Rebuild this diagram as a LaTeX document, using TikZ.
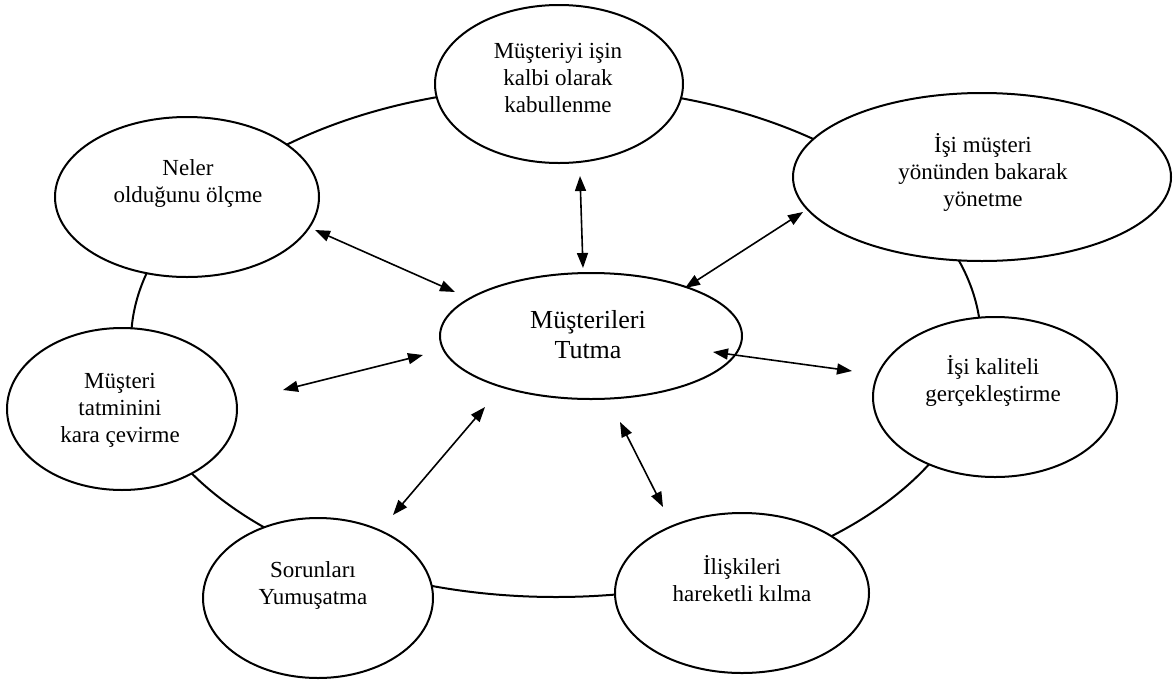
\documentclass[tikz,border=0pt]{standalone}
\usepackage{fontspec}
\setmainfont{Liberation Serif}
\usetikzlibrary{shapes.geometric,arrows.meta}
\tikzset{
  ell/.style={draw=black, line width=2pt, ellipse, fill=white, inner sep=0pt},
  txt/.style={align=center, inner sep=0pt, font={\fontsize{23}{27}\selectfont}},
  bigtxt/.style={align=center, inner sep=0pt, font={\fontsize{26}{30}\selectfont}},
  ring/.style={draw=black, line width=2pt},
  arr/.style={line width=1.6pt, {Triangle[length=15pt,width=11pt]}-{Triangle[length=15pt,width=11pt]}}
}
\begin{document}
\begin{tikzpicture}[x=1pt,y=-1pt]
\useasboundingbox (0,0) rectangle (1175,683);
\fill[white] (0,0) rectangle (1175,683);
% outer ring
\draw[ring] (556,342) ellipse [x radius=425pt, y radius=255pt];
% ellipses
\node[ell, minimum width=248pt, minimum height=158pt] (e1) at (559,84) {};
\node[ell, minimum width=378pt, minimum height=168pt] (e2) at (982,177) {};
\node[ell, minimum width=244pt, minimum height=160pt] (e3) at (995,397) {};
\node[ell, minimum width=254pt, minimum height=160pt] (e4) at (742,593) {};
\node[ell, minimum width=230pt, minimum height=160pt] (e5) at (318,598) {};
\node[ell, minimum width=230pt, minimum height=162pt] (e6) at (122,409) {};
\node[ell, minimum width=264pt, minimum height=160pt] (e7) at (187,197) {};
\node[ell, minimum width=302pt, minimum height=126pt] (c) at (591,336) {};
% texts
\node[txt] (t1) at (558,78) {Müşteriyi işin\\kalbi olarak\\kabullenme};
\node[txt] (t2) at (983,172) {İşi müşteri\\yönünden bakarak\\yönetme};
\node[txt] (t3) at (993,381) {İşi kaliteli\\gerçekleştirme};
\node[txt] (t4) at (742,579) {İlişkileri\\hareketli kılma};
\node[txt] (t5) at (313,585) {Sorunları\\Yumuşatma};
\node[txt] (t6) at (120,410) {Müşteri\\tatminini\\kara çevirme};
\node[txt] (t7) at (188,183) {Neler\\olduğunu ölçme};
\node[bigtxt] (tc) at (588,335) {Müşterileri\\Tutma};
% arrow end points
\coordinate (p1a) at (580,176);  \coordinate (p1b) at (583,268);
\coordinate (p7a) at (315,230);  \coordinate (p7b) at (455,292);
\coordinate (p2a) at (803,212);  \coordinate (p2b) at (685,288);
\coordinate (p6a) at (283,390);  \coordinate (p6b) at (423,355);
\coordinate (p3a) at (713,352);  \coordinate (p3b) at (852,371);
\coordinate (p5a) at (485,407);  \coordinate (p5b) at (393,515);
\coordinate (p4a) at (620,422);  \coordinate (p4b) at (663,507);
\draw[arr] (p1a) -- (p1b);
\draw[arr] (p7a) -- (p7b);
\draw[arr] (p2a) -- (p2b);
\draw[arr] (p6a) -- (p6b);
\draw[arr] (p3a) -- (p3b);
\draw[arr] (p5a) -- (p5b);
\draw[arr] (p4a) -- (p4b);
\end{tikzpicture}
\end{document}
